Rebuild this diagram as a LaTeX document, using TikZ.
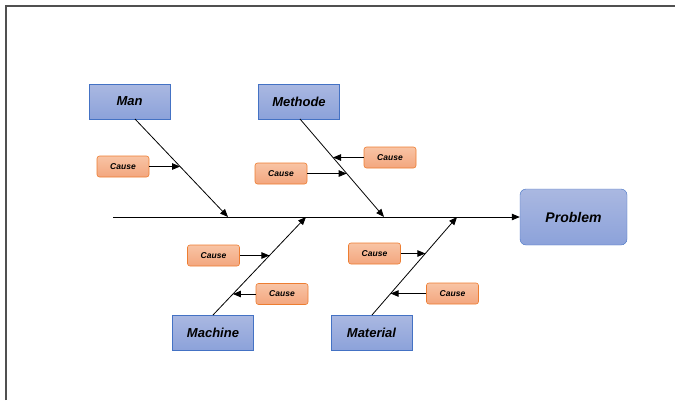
\documentclass[tikz,border=0pt]{standalone}
\usepackage{fontspec}
\setmainfont{Liberation Sans}
\usetikzlibrary{arrows.meta, positioning, calc}
\definecolor{boneblue}{RGB}{68, 114, 196}
\definecolor{bonetop}{RGB}{170, 184, 225}
\definecolor{bonebot}{RGB}{140, 162, 218}
\definecolor{causeline}{RGB}{237, 125, 49}
\definecolor{causetop}{RGB}{248, 196, 165}
\definecolor{causebot}{RGB}{243, 166, 126}
\definecolor{framegray}{RGB}{80, 80, 80}

\begin{document}
\begin{tikzpicture}[
        x=1pt, y=-1pt,
        kategorie/.style={
            draw=boneblue,
            top color=bonetop,
            bottom color=bonebot,
            minimum width=81pt,
            minimum height=35pt,
            inner sep=0pt,
            font=\fontsize{13}{15}\selectfont\bfseries\itshape
        },
        problem/.style={
            kategorie,
            rounded corners=6pt,
            minimum width=107pt,
            minimum height=56pt,
            font=\fontsize{14}{16}\selectfont\bfseries\itshape
        },
        ursache/.style={
            draw=causeline,
            line width=0.6pt,
            top color=causetop,
            bottom color=causebot,
            rounded corners=2.5pt,
            minimum width=52pt,
            minimum height=21pt,
            inner sep=0pt,
            font=\fontsize{8.5}{10}\selectfont\bfseries\itshape
        },
        pfeil/.style={-{Triangle[length=8pt, width=6.5pt]}, line width=0.8pt}
    ]
        \useasboundingbox (0,0) rectangle (675,400);
        \draw[framegray, line width=1.5pt] (6,400) -- (6,6) -- (675,6);

        % Kopf und Hauptgraete
        \node[problem] (problem) at (573.5,217) {Problem};
        \coordinate (start) at (113,217);
        \draw[pfeil] (start) -- (problem.west);

        % Kategorien
        \node[kategorie] (man)      at (129.5,101.5) {Man};
        \node[kategorie] (methode)  at (299,101.5)   {Methode};
        \node[kategorie] (machine)  at (213,332.5)   {Machine};
        \node[kategorie] (material) at (371.5,332.5) {Material};

        \coordinate (manA) at (135,119);  \coordinate (manB) at (228,217);
        \coordinate (metA) at (300,119);  \coordinate (metB) at (384,217);
        \coordinate (macA) at (213,315);  \coordinate (macB) at (306,217);
        \coordinate (matA) at (372,315);  \coordinate (matB) at (457,217);

        \foreach \a/\b in {manA/manB, metA/metB, macA/macB, matA/matB}
            \draw[pfeil] (\a) -- (\b);

        % Ursachen (Anteil entlang der Graete)
        \foreach \name/\seite/\px/\py/\a/\b/\anteil in {
            c1/east/123/166.5/manA/manB/0.485,
            c2/west/390/157.5/metA/metB/0.393,
            c3/east/281/173.5/metA/metB/0.556,
            c4/east/213.5/255.5/macA/macB/0.607,
            c5/west/282/294/macA/macB/0.214,
            c6/east/374.5/253.5/matA/matB/0.628,
            c7/west/452.5/293.5/matA/matB/0.219%
        } {
            \node[ursache] (\name) at (\px,\py) {Cause};
            \coordinate (\name z) at ($(\a)!\anteil!(\b)$);
            \draw[pfeil] (\name.\seite) -- (\name z |- \name.\seite);
        }
    \end{tikzpicture}
\end{document}
